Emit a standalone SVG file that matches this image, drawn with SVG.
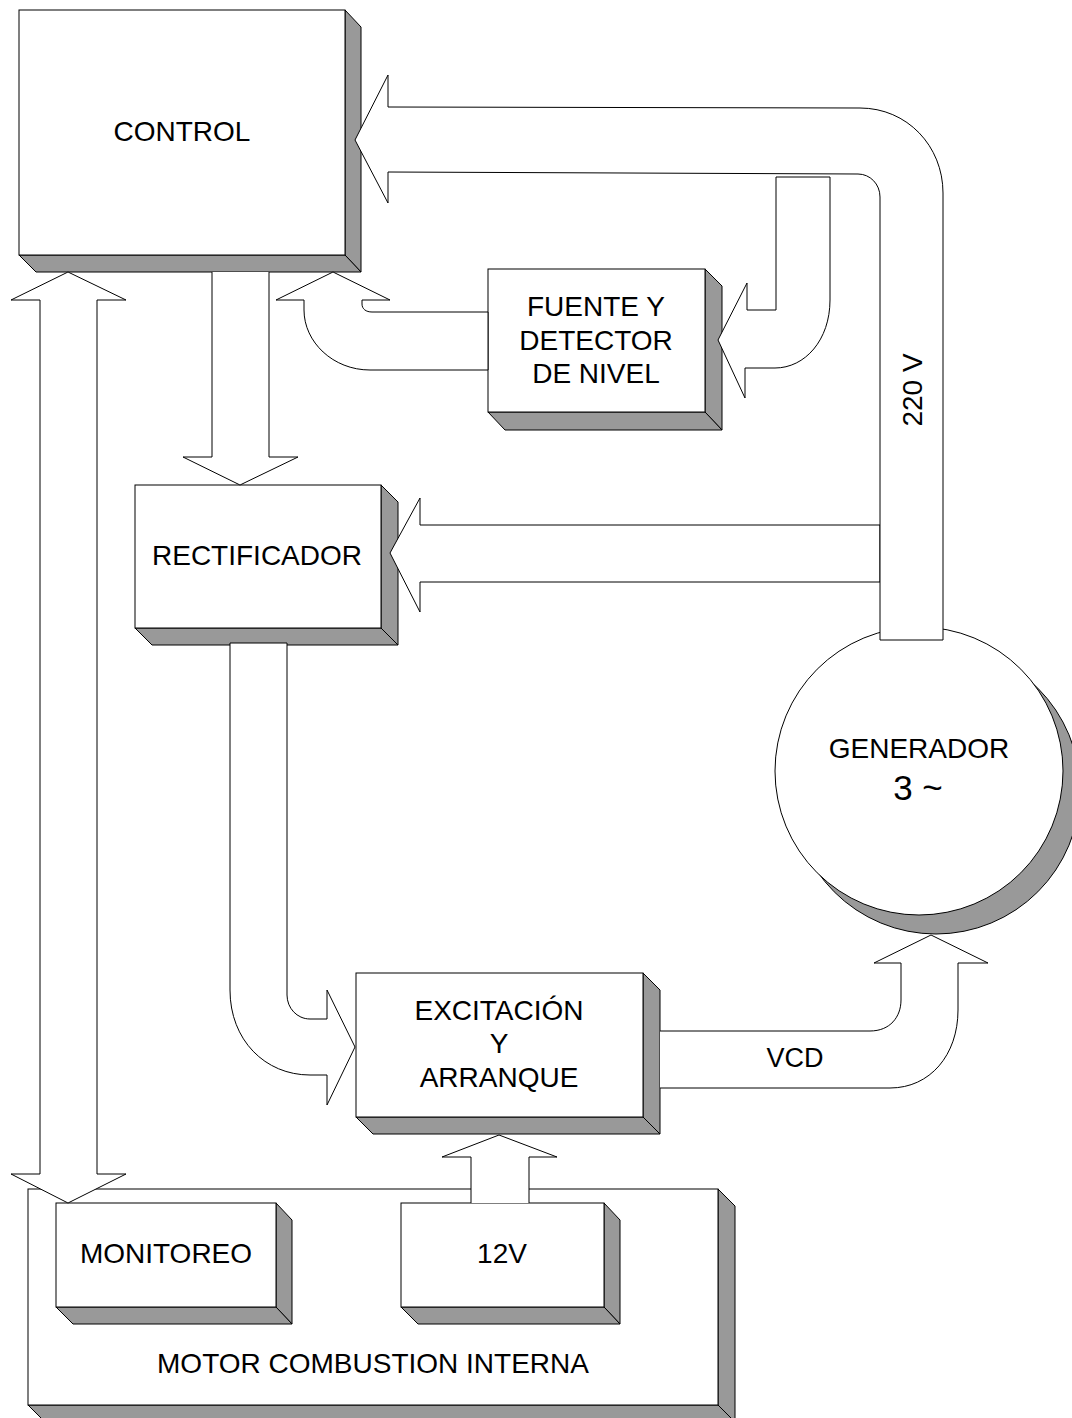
<svg xmlns="http://www.w3.org/2000/svg" width="1072" height="1418" viewBox="0 0 1072 1418">
<style>
.face{fill:#fff;stroke:#000;stroke-width:1}
.sh{fill:#999;stroke:#000;stroke-width:1;stroke-linejoin:miter}
.ar{fill:#fff;stroke:#000;stroke-width:1;stroke-linejoin:miter}
.t{font-family:"Liberation Sans",Arial,sans-serif;font-size:28px;fill:#000;text-anchor:middle}
</style>
<rect width="1072" height="1418" fill="#fff"/>
<g id="motor">
<polygon class="sh" points="718,1189 735,1206 735,1422 718,1405"/>
<polygon class="sh" points="28,1405 45,1422 735,1422 718,1405"/>
<rect class="face" x="28" y="1189" width="690" height="216"/>
<text class="t" x="373" y="1373">MOTOR COMBUSTION INTERNA</text>
</g>
<g id="monitoreo">
<polygon class="sh" points="276,1203 292,1220 292,1324 276,1307"/>
<polygon class="sh" points="56,1307 73,1324 292,1324 276,1307"/>
<rect class="face" x="56" y="1203" width="220" height="104"/>
<text class="t" x="166" y="1263">MONITOREO</text>
</g>
<g id="bat12v">
<polygon class="sh" points="604,1203 620,1220 620,1324 604,1307"/>
<polygon class="sh" points="401,1307 418,1324 620,1324 604,1307"/>
<rect class="face" x="401" y="1203" width="203" height="104"/>
<text class="t" x="502" y="1263">12V</text>
</g>
<g id="control">
<polygon class="sh" points="345,10 361,27 361,272 345,255"/>
<polygon class="sh" points="19,255 36,272 361,272 345,255"/>
<rect class="face" x="19" y="10" width="326" height="245"/>
<text class="t" x="182" y="141">CONTROL</text>
</g>
<g id="fuente">
<polygon class="sh" points="705,269 722,286 722,430 705,412"/>
<polygon class="sh" points="488,412 505,430 722,430 705,412"/>
<rect class="face" x="488" y="269" width="217" height="143"/>
<text class="t" x="596" y="316">FUENTE Y</text>
<text class="t" x="596" y="350">DETECTOR</text>
<text class="t" x="596" y="383">DE NIVEL</text>
</g>
<g id="rectificador">
<polygon class="sh" points="381,485 398,502 398,645 381,628"/>
<polygon class="sh" points="135,628 152,645 398,645 381,628"/>
<rect class="face" x="135" y="485" width="246" height="143"/>
<text class="t" x="257" y="565">RECTIFICADOR</text>
</g>
<g id="excitacion">
<polygon class="sh" points="643,973 660,990 660,1134 643,1117"/>
<polygon class="sh" points="356,1117 373,1134 660,1134 643,1117"/>
<rect class="face" x="356" y="973" width="287" height="144"/>
<text class="t" x="499" y="1020">EXCITACIÓN</text>
<text class="t" x="499" y="1053">Y</text>
<text class="t" x="499" y="1087">ARRANQUE</text>
</g>
<g id="generador">
<circle class="sh" cx="936" cy="790" r="144"/>
<circle class="face" cx="919" cy="771" r="144"/>
<text class="t" x="919" y="758">GENERADOR</text>
<text class="t" x="918" y="800" style="font-size:35px">3 ~</text>
</g>
<g id="connectors">
<path class="ar" d="M880,525 L420,525 L420,498 L390,553 L420,612 L420,582 L880,582 Z"/>
<path class="ar" d="M943,640 L943,193 C943,146 907,108 860,108 L388,107 L388,75 L355,140 L388,203 L388,172 L858,174 C870,174 880,184 880,197 L880,640 Z"/>
<path class="ar" d="M830,177 L776,177 L776,310 L747,310 L747,283 L718,340 L745,398 L745,368 L775,368 C805,368 830,340 830,300 Z"/>
<path class="ar" d="M333,272 L390,300 L362,300 L362,304 C362,309 366,312 372,312 L488,312 L488,370 L370,370 C333,370 304,342 304,310 L304,300 L276,300 Z"/>
<path class="ar" d="M212,272 L212,457 L183,457 L240,485 L298,457 L269,457 L269,272"/>
<path class="ar" d="M230,643 L230,990 C230,1040 265,1075 310,1075 L327,1075 L327,1105 L355,1047 L327,990 L327,1019 L310,1019 C297,1019 287,1008 287,995 L287,643 Z"/>
<path class="ar" d="M660,1031 L870,1031 C890,1031 901,1017 901,1000 L901,963 L874,963 L931,935 L988,963 L958,963 L958,1010 C958,1055 930,1088 890,1088 L660,1088"/>
<path class="ar" d="M471,1203 L471,1157 L442,1157 L499,1135 L557,1157 L529,1157 L529,1203"/>
<path class="ar" d="M68,272 L126,300 L97,300 L97,1174 L126,1174 L68,1203 L11,1174 L40,1174 L40,300 L11,300 Z"/>
<text class="t" transform="translate(922,390) rotate(-90)" x="0" y="0">220 V</text>
<text class="t" x="795" y="1067" style="font-size:27px">VCD</text>
</g>
</svg>
